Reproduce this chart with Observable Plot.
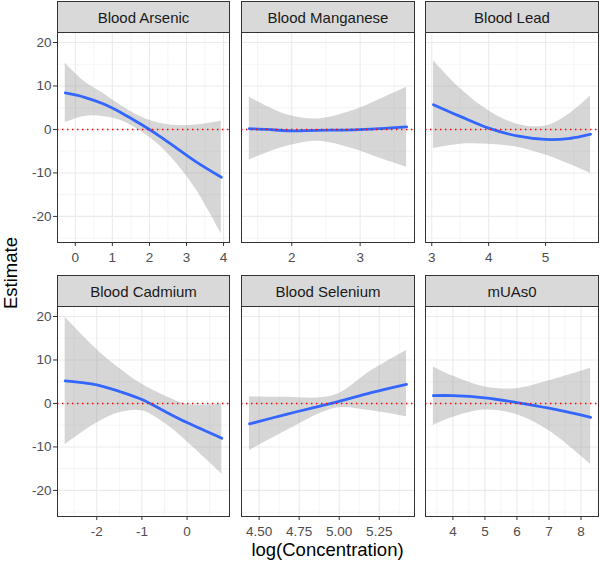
<!DOCTYPE html>
<html>
<head>
<meta charset="utf-8">
<script src="https://cdn.jsdelivr.net/npm/d3@7"></script>
<script src="https://cdn.jsdelivr.net/npm/@observablehq/plot@0.6"></script>
<style>
  html, body { margin: 0; padding: 0; background: white; }
  #chart { position: relative; width: 600px; height: 567px; background: white; font-family: "Liberation Sans", Arial, sans-serif; }
</style>
</head>
<body>
<div id="chart"></div>
<script>
// ---- Data ----
const panels = ["Blood Arsenic", "Blood Manganese", "Blood Lead", "Blood Cadmium", "Blood Selenium", "mUAs0"];

const arsenicX   = [-0.27, 0.25, 0.75, 1.25, 1.75, 2.25, 2.75, 3.25, 3.94];
const arsenicEst = [8.4, 7.4, 5.9, 3.8, 1.3, -1.4, -4.4, -7.4, -11.0];
const arsenicLo  = [1.6, 3.0, 3.0, 2.0, -0.3, -3.5, -8.0, -13.7, -24.0];
const arsenicHi  = [15.2, 11.0, 8.3, 5.4, 3.0, 1.5, 0.9, 1.0, 1.9];

const manganeseX   = [1.38, 1.65, 1.94, 2.38, 2.91, 3.3, 3.68];
const manganeseEst = [0.2, 0.0, -0.3, -0.2, -0.1, 0.2, 0.6];
const manganeseLo  = [-7.0, -5.3, -3.8, -2.7, -4.5, -6.7, -8.7];
const manganeseHi  = [7.4, 5.2, 3.3, 2.4, 4.4, 7.0, 9.7];

const leadX   = [3.03, 3.5, 4.0, 4.5, 5.0, 5.4, 5.79];
const leadEst = [5.7, 3.0, 0.3, -1.5, -2.3, -2.1, -1.1];
const leadLo  = [-4.4, -3.4, -3.4, -4.1, -5.9, -7.9, -10.1];
const leadHi  = [15.8, 9.4, 4.3, 1.2, 0.8, 3.4, 7.7];

const cadmiumX   = [-2.7, -2.0, -1.48, -1.0, -0.46, 0.0, 0.77];
const cadmiumEst = [5.2, 4.3, 2.7, 0.9, -2.0, -4.4, -8.0];
const cadmiumLo  = [-9.5, -4.5, -2.1, -1.7, -4.8, -8.8, -16.2];
const cadmiumHi  = [19.8, 12.4, 7.9, 4.4, 1.6, -0.2, -0.2];

const seleniumX   = [4.44, 4.67, 4.88, 5.0, 5.2, 5.42];
const seleniumEst = [-4.7, -2.5, -0.6, 0.5, 2.5, 4.4];
const seleniumLo  = [-10.8, -6.3, -2.3, -1.0, -1.7, -3.1];
const seleniumHi  = [1.5, 1.4, 1.3, 2.3, 7.5, 12.2];

const muasX   = [3.39, 4.0, 5.0, 6.0, 7.0, 8.3];
const muasEst = [1.8, 1.8, 1.3, 0.2, -1.1, -3.2];
const muasLo  = [-5.1, -3.2, -1.5, -2.6, -6.3, -14.0];
const muasHi  = [8.4, 6.3, 3.8, 3.4, 5.2, 8.1];

// axis limits and tick labels
const yDomain = [-26, 22.3];
const yTicks = [-20, -10, 0, 10, 20];
const yMinor = [-25, -15, -5, 5, 15];

const arsenicDomain = [-0.48, 4.16];
const arsenicTicks = [0, 1, 2, 3, 4];
const arsenicMinor = [0.5, 1.5, 2.5, 3.5];
const manganeseDomain = [1.265, 3.795];
const manganeseTicks = [2, 3];
const manganeseMinor = [1.5, 2.5, 3.5];
const leadDomain = [2.89, 5.93];
const leadTicks = [3, 4, 5];
const leadMinor = [3.5, 4.5, 5.5];
const cadmiumDomain = [-2.87, 0.94];
const cadmiumTicks = [-2, -1, 0];
const cadmiumMinor = [-2.5, -1.5, -0.5, 0.5];
const seleniumDomain = [4.39, 5.47];
const seleniumTicks = [4.5, 4.75, 5.0, 5.25];
const seleniumMinor = [4.625, 4.875, 5.125, 5.375];
const muasDomain = [3.145, 8.545];
const muasTicks = [4, 5, 6, 7, 8];
const muasMinor = [3.5, 4.5, 5.5, 6.5, 7.5, 8.5];

const xTitle = "log(Concentration)";
const yTitle = "Estimate";

// ---- Build ----
const intFmt = d => String(d);
const dec2Fmt = d => d.toFixed(2);
const series = [
  {name: panels[0], x: arsenicX, est: arsenicEst, lo: arsenicLo, hi: arsenicHi, domain: arsenicDomain, ticks: arsenicTicks, minor: arsenicMinor, fmt: intFmt},
  {name: panels[1], x: manganeseX, est: manganeseEst, lo: manganeseLo, hi: manganeseHi, domain: manganeseDomain, ticks: manganeseTicks, minor: manganeseMinor, fmt: intFmt},
  {name: panels[2], x: leadX, est: leadEst, lo: leadLo, hi: leadHi, domain: leadDomain, ticks: leadTicks, minor: leadMinor, fmt: intFmt},
  {name: panels[3], x: cadmiumX, est: cadmiumEst, lo: cadmiumLo, hi: cadmiumHi, domain: cadmiumDomain, ticks: cadmiumTicks, minor: cadmiumMinor, fmt: intFmt},
  {name: panels[4], x: seleniumX, est: seleniumEst, lo: seleniumLo, hi: seleniumHi, domain: seleniumDomain, ticks: seleniumTicks, minor: seleniumMinor, fmt: dec2Fmt},
  {name: panels[5], x: muasX, est: muasEst, lo: muasLo, hi: muasHi, domain: muasDomain, ticks: muasTicks, minor: muasMinor, fmt: intFmt}
];

const root = document.getElementById("chart");
const colLeft = [57, 241, 425];
const colWidth = [172, 173, 173];
const rowTop = [1, 275];
const stripH = 31;
const panelH = 210;
const font = "'Liberation Sans', Arial, sans-serif";

series.forEach((s, i) => {
  const c = i % 3, r = Math.floor(i / 3);
  const left = colLeft[c], w = colWidth[c];
  const stripTop = rowTop[r];
  const panelTop = stripTop + stripH;

  const strip = document.createElement("div");
  Object.assign(strip.style, {
    position: "absolute", left: left + "px", top: stripTop + "px",
    width: (w + 1) + "px", height: (stripH + 1) + "px", boxSizing: "border-box",
    border: "1px solid #333333", background: "#d9d9d9", color: "#1a1a1a",
    fontSize: "15px", display: "flex", alignItems: "center", justifyContent: "center",
    fontFamily: font
  });
  strip.textContent = s.name;
  root.appendChild(strip);

  const mL = c === 0 ? 57 : 10, mR = 2, mT = 1, mB = 32;
  const data = s.x.map((x, k) => ({x, est: s.est[k], lo: s.lo[k], hi: s.hi[k]}));
  const marks = [
    Plot.ruleY(yMinor, {stroke: "#f3f3f3", strokeWidth: 0.8}),
    Plot.ruleX(s.minor, {stroke: "#f3f3f3", strokeWidth: 0.8}),
    Plot.ruleY(yTicks, {stroke: "#ebebeb", strokeWidth: 1.1}),
    Plot.ruleX(s.ticks, {stroke: "#ebebeb", strokeWidth: 1.1}),
    Plot.areaY(data, {x: "x", y1: "lo", y2: "hi", fill: "#999999", fillOpacity: 0.4, curve: "catmull-rom"}),
    Plot.line(data, {x: "x", y: "est", stroke: "#3366FF", strokeWidth: 2.8, curve: "catmull-rom"}),
    Plot.ruleY([0], {stroke: "#ff0000", strokeWidth: 1.4, strokeDasharray: "1.4,3.6"}),
    Plot.frame({stroke: "#333333", strokeWidth: 1}),
    Plot.axisX({ticks: s.ticks, tickSize: 4, tickPadding: 6, fontSize: 13.5, stroke: "#333333", fill: "#4d4d4d", tickFormat: s.fmt, label: null})
  ];
  if (c === 0) {
    marks.push(Plot.axisY({ticks: yTicks, tickSize: 4, tickPadding: 2, fontSize: 13.5, stroke: "#333333", fill: "#4d4d4d", tickFormat: intFmt, label: null}));
  }
  const svg = Plot.plot({
    width: mL + w + mR, height: mT + panelH + mB,
    marginLeft: mL, marginRight: mR, marginTop: mT, marginBottom: mB,
    x: {domain: s.domain},
    y: c === 0 ? {domain: yDomain} : {domain: yDomain, axis: null},
    style: {background: "transparent", fontFamily: font, fontSize: "13.5px", overflow: "visible"},
    marks
  });
  svg.style.position = "absolute";
  svg.style.left = (left - mL) + "px";
  svg.style.top = (panelTop - mT) + "px";
  root.appendChild(svg);
});

const yt = document.createElement("div");
Object.assign(yt.style, {
  position: "absolute", left: (11 - 60) + "px", top: (273 - 11) + "px", width: "120px", height: "22px",
  lineHeight: "22px", textAlign: "center", fontSize: "18.5px", color: "#000", fontFamily: font,
  transform: "rotate(-90deg)", transformOrigin: "50% 50%"
});
yt.textContent = yTitle;
root.appendChild(yt);

const xt = document.createElement("div");
Object.assign(xt.style, {
  position: "absolute", left: (327.5 - 120) + "px", top: "540px", width: "240px", height: "20px",
  lineHeight: "20px", textAlign: "center", fontSize: "18.5px", color: "#000", fontFamily: font
});
xt.textContent = xTitle;
root.appendChild(xt);
</script>
</body>
</html>
